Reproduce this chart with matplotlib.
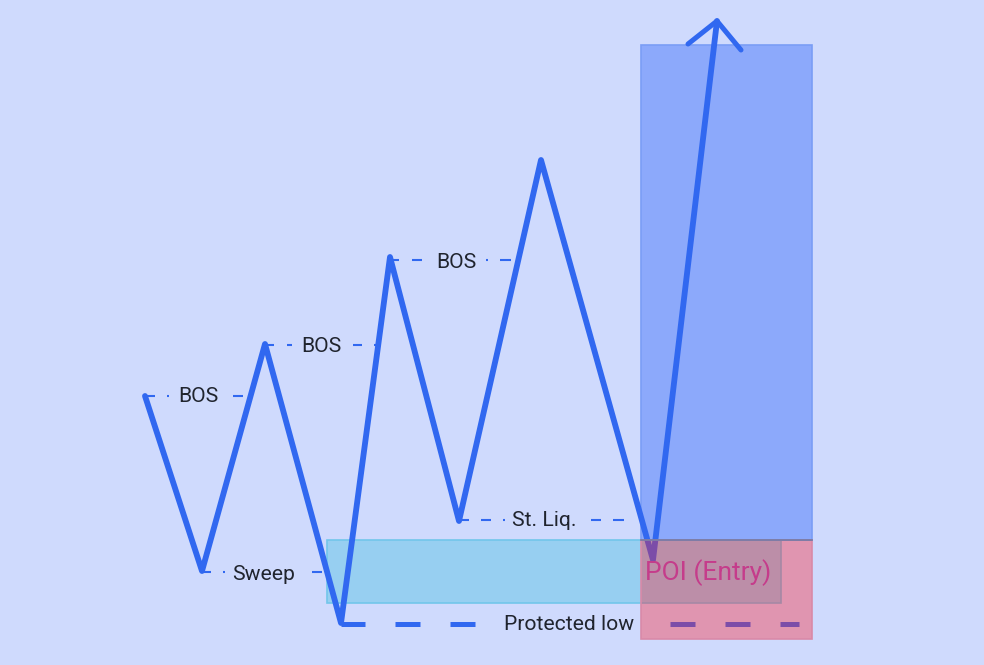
import matplotlib
matplotlib.use("Agg")
import matplotlib.pyplot as plt
from matplotlib.patches import Rectangle

W, H = 984, 665
BG = "#cfdafd"
LINE = "#3168f0"
TEXT = "#20242e"

swing_x = [145, 202, 265, 341, 390, 459, 541, 653, 717]
swing_y = [396, 571, 344, 623, 257, 521, 160, 560, 21]
head_x = [688, 717, 741]
head_y = [44, 21, 50]

level_y = [396, 345, 260, 572, 520]
level_dashes = [
    [(145, 155), (167, 169), (233, 243)],
    [(265, 274), (287, 292), (353, 362), (374, 378)],
    [(390, 399), (412, 422), (486, 488), (500, 511)],
    [(202, 211), (223, 225), (312, 322)],
    [(459, 469), (481, 491), (503, 505), (591, 601), (613, 624)],
]
protected_y = 623.5
protected_dashes = [(341, 365), (395, 420), (450, 475), (670, 695), (725, 750), (780, 799)]

labels = ["BOS", "BOS", "BOS", "Sweep", "St. Liq.", "Protected low"]
label_x = [198, 321, 456, 264, 544.5, 569.5]
label_y = [397, 347, 262, 574.5, 521, 625]

poi_label = "POI (Entry)"

plt.rcParams["font.family"] = ["Roboto", "DejaVu Sans"]
fig = plt.figure(figsize=(W / 100, H / 100), dpi=100, facecolor=BG)
ax = fig.add_axes([0, 0, 1, 1])
ax.set_xlim(0, W)
ax.set_ylim(H, 0)
ax.axis("off")


def box(x0, x1, y0, y1, rgb, alpha, edge, z):
    ax.add_patch(Rectangle((x0, y0), x1 - x0, y1 - y0, facecolor=rgb + (alpha,),
                           edgecolor=edge, linewidth=1.2, zorder=z))


box(641, 812, 45, 540, (75 / 255, 122 / 255, 251 / 255), 0.5, "#7a9df5", 1)
box(327, 781, 540, 603, (97 / 255, 198 / 255, 231 / 255), 0.5, "#72c6ea", 2)

ax.plot(swing_x, swing_y, color=LINE, lw=4.2, solid_joinstyle="round",
        solid_capstyle="round", zorder=3)
ax.plot(head_x, head_y, color=LINE, lw=3.6, solid_joinstyle="round",
        solid_capstyle="round", zorder=3)

for y, dashes in zip(level_y, level_dashes):
    for a, b in dashes:
        ax.plot([a, b], [y, y], color=LINE, lw=1.5, solid_capstyle="butt", zorder=3)
for a, b in protected_dashes:
    ax.plot([a, b], [protected_y, protected_y], color=LINE, lw=3.6,
            solid_capstyle="butt", zorder=3)

box(641, 812, 540, 639, (254 / 255, 32 / 255, 45 / 255), 0.37, "#d98aa8", 4)
ax.plot([641, 812], [540, 540], color="#6f7aa6", lw=1.2, zorder=5)

for s, x, y in zip(labels, label_x, label_y):
    ax.text(x, y, s, ha="center", va="center", fontsize=15.2, color=TEXT, zorder=6)
ax.text(708, 573, poi_label, ha="center", va="center", fontsize=19,
        color="#c53c8b", zorder=6)

fig.savefig("out.png", dpi=100, facecolor=BG)
